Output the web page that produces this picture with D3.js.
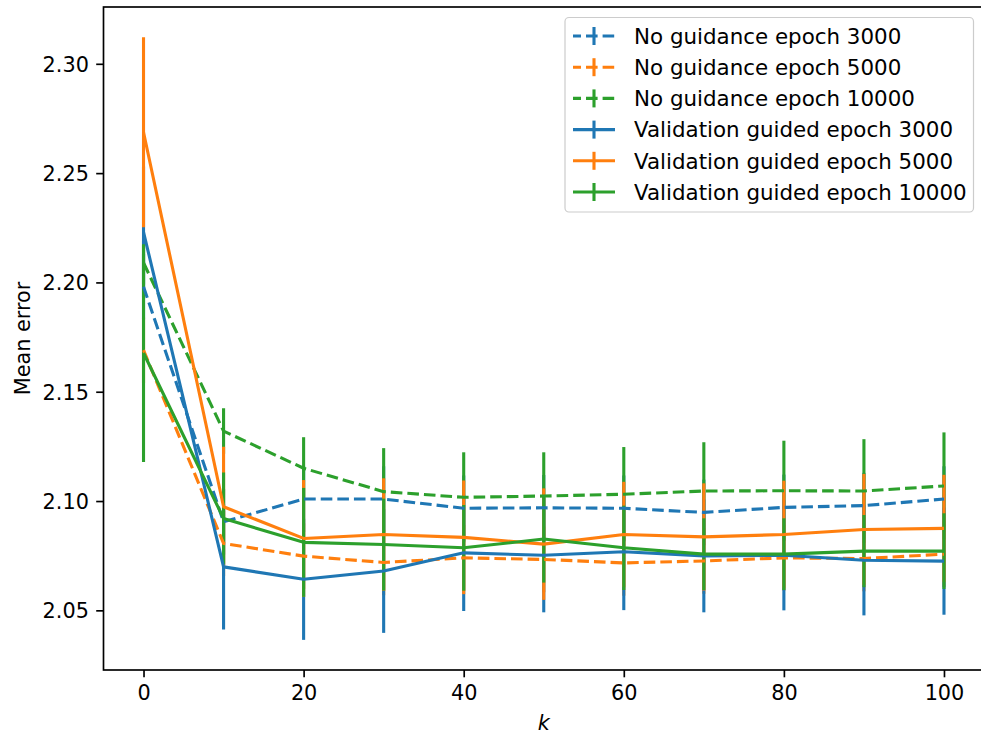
<!DOCTYPE html>
<html>
<head>
<meta charset="utf-8">
<script src="https://cdn.jsdelivr.net/npm/d3@7"></script>
<style>
  body { margin: 0; background: #fff; }
  text { font-family: "DejaVu Sans", sans-serif; }
</style>
</head>
<body>
<script>
// data
var kValues = [0, 10, 20, 30, 40, 50, 60, 70, 80, 90, 100];
var xTicks = [0, 20, 40, 60, 80, 100];
var yTicks = [2.05, 2.10, 2.15, 2.20, 2.25, 2.30];

var seriesNames = ["No guidance epoch 3000", "No guidance epoch 5000", "No guidance epoch 10000",
                   "Validation guided epoch 3000", "Validation guided epoch 5000", "Validation guided epoch 10000"];

var ng3000 = [2.198, 2.0905, 2.1009, 2.1009, 2.0967, 2.0969, 2.0967, 2.0948, 2.0971, 2.0979, 2.1009];
var ng5000 = [2.169, 2.0806, 2.0748, 2.0719, 2.0740, 2.0733, 2.0717, 2.0726, 2.0740, 2.0737, 2.0757];
var ng10000 = [2.209, 2.132, 2.115, 2.1043, 2.1017, 2.1023, 2.1031, 2.1046, 2.1047, 2.1046, 2.1069];
var vg3000 = [2.223, 2.0699, 2.0642, 2.0680, 2.0763, 2.0752, 2.0768, 2.0749, 2.0752, 2.0729, 2.0725];
var vg5000 = [2.2687, 2.0974, 2.0829, 2.0847, 2.0834, 2.0803, 2.0847, 2.0836, 2.0847, 2.0870, 2.0875];
var vg10000 = [2.1677, 2.0920, 2.0811, 2.0801, 2.0786, 2.0826, 2.0786, 2.0757, 2.0757, 2.0771, 2.0771];

var ng3000Err = [0.015, 0.015, 0.015, 0.015, 0.015, 0.015, 0.015, 0.015, 0.015, 0.015, 0.015];
var ng5000Err = [0.015, 0.015, 0.015, 0.015, 0.015, 0.015, 0.015, 0.015, 0.015, 0.015, 0.015];
var ng10000Err = [0.010, 0.0104, 0.0142, 0.0199, 0.0206, 0.0200, 0.0216, 0.0223, 0.0229, 0.0237, 0.0245];
var vg3000Err = [0.030, 0.0287, 0.0277, 0.0283, 0.0266, 0.0261, 0.0267, 0.0258, 0.0252, 0.0252, 0.0245];
var vg5000Err = [0.0435, 0.0274, 0.0267, 0.0257, 0.0260, 0.0255, 0.0241, 0.0245, 0.0246, 0.0254, 0.0245];
var vg10000Err = [0.0498, 0.0210, 0.0249, 0.0210, 0.0196, 0.0199, 0.0193, 0.0164, 0.0164, 0.0165, 0.0173];

var seriesMeans = [ng3000, ng5000, ng10000, vg3000, vg5000, vg10000];
var seriesErrs = [ng3000Err, ng5000Err, ng10000Err, vg3000Err, vg5000Err, vg10000Err];
var seriesColors = ["#1f77b4", "#ff7f0e", "#2ca02c", "#1f77b4", "#ff7f0e", "#2ca02c"];
var seriesDashed = [true, true, true, false, false, false];

//sizes
var cWidth = 981;
var cHeight = 734;
var plotLeft = 103.5, plotRight = 984, plotTop = 7, plotBottom = 670;
var fontSize = 20.8;
var legendFont = 21.4;
var lw = 3.1;
var dash = "11.6,5";

// y limits like matplotlib: data extent plus 5% margin
var lo = d3.min(seriesMeans, function(m, s) { return d3.min(m, function(v, i) { return v - seriesErrs[s][i]; }); });
var hi = d3.max(seriesMeans, function(m, s) { return d3.max(m, function(v, i) { return v + seriesErrs[s][i]; }); });
var pad = (hi - lo) * 0.05;

var xScale = d3.scaleLinear().domain([-5, 105]).range([plotLeft, plotRight]);
var yScale = d3.scaleLinear().domain([lo - pad, hi + pad]).range([plotBottom, plotTop]);

var svg = d3.select("body")
    .append("svg")
    .attr("width", cWidth)
    .attr("height", cHeight);

svg.append("defs").append("clipPath").attr("id", "plotClip")
    .append("rect")
    .attr("x", plotLeft).attr("y", plotTop)
    .attr("width", plotRight - plotLeft).attr("height", plotBottom - plotTop);

var plot = svg.append("g").attr("clip-path", "url(#plotClip)");

// error bars first (matplotlib puts the data lines above them)
seriesMeans.forEach(function(means, s) {
  plot.append("g")
      .selectAll("line")
      .data(kValues)
      .enter()
      .append("line")
      .attr("x1", function(k) { return xScale(k); })
      .attr("x2", function(k) { return xScale(k); })
      .attr("y1", function(k, i) { return yScale(means[i] - seriesErrs[s][i]); })
      .attr("y2", function(k, i) { return yScale(means[i] + seriesErrs[s][i]); })
      .attr("stroke", seriesColors[s])
      .attr("stroke-width", lw);
});

var line = d3.line()
    .x(function(d) { return xScale(d[0]); })
    .y(function(d) { return yScale(d[1]); });

seriesMeans.forEach(function(means, s) {
  plot.append("path")
      .datum(d3.zip(kValues, means))
      .attr("d", line)
      .attr("fill", "none")
      .attr("stroke", seriesColors[s])
      .attr("stroke-width", lw)
      .attr("stroke-linejoin", "round")
      .attr("stroke-dasharray", seriesDashed[s] ? dash : null);
});

// axes
var xAxis = svg.append("g")
    .attr("transform", "translate(0," + plotBottom + ")")
    .call(d3.axisBottom(xScale).tickValues(xTicks).tickSize(7.3).tickPadding(7.3).tickFormat(d3.format("d")));
var yAxis = svg.append("g")
    .attr("transform", "translate(" + plotLeft + ",0)")
    .call(d3.axisLeft(yScale).tickValues(yTicks).tickSize(7.3).tickPadding(7.3).tickFormat(d3.format(".2f")));

[xAxis, yAxis].forEach(function(ax) {
  ax.select(".domain").remove();
  ax.selectAll(".tick line").attr("stroke", "#000").attr("stroke-width", 1.67);
  ax.selectAll(".tick text")
    .attr("fill", "#000")
    .style("font-family", "'DejaVu Sans', sans-serif")
    .style("font-size", fontSize + "px");
});
xAxis.selectAll(".tick text").attr("dy", "0.76em");
yAxis.selectAll(".tick text").attr("dy", "0.36em");

// frame
svg.append("rect")
    .attr("x", plotLeft).attr("y", plotTop)
    .attr("width", plotRight - plotLeft).attr("height", plotBottom - plotTop)
    .attr("fill", "none")
    .attr("stroke", "#000")
    .attr("stroke-width", 1.67);

// labels
svg.append("text")
    .attr("x", (plotLeft + plotRight) / 2)
    .attr("y", 729.5)
    .attr("text-anchor", "middle")
    .style("font-size", fontSize + "px")
    .style("font-style", "italic")
    .text("k");

svg.append("text")
    .attr("transform", "translate(29.5," + (plotTop + plotBottom) / 2 + ") rotate(-90)")
    .attr("text-anchor", "middle")
    .style("font-size", fontSize + "px")
    .text("Mean error");

// legend
var legend = svg.append("g");
legend.append("rect")
    .attr("x", 565).attr("y", 17.5)
    .attr("width", 408.5).attr("height", 194.5)
    .attr("rx", 4)
    .attr("fill", "#fff").attr("fill-opacity", 0.8)
    .attr("stroke", "#cccccc").attr("stroke-width", 1.2);

var rows = legend.selectAll("g.row")
    .data(seriesNames)
    .enter()
    .append("g")
    .attr("transform", function(d, i) { return "translate(0," + (36 + i * 31.2) + ")"; });

rows.append("line")
    .attr("x1", 573).attr("x2", 615)
    .attr("y1", 0).attr("y2", 0)
    .attr("stroke", function(d, i) { return seriesColors[i]; })
    .attr("stroke-width", lw)
    .attr("stroke-dasharray", function(d, i) { return seriesDashed[i] ? dash : null; })
    .attr("stroke-dashoffset", 3.6);

rows.append("line")
    .attr("x1", 594).attr("x2", 594)
    .attr("y1", -9).attr("y2", 9)
    .attr("stroke", function(d, i) { return seriesColors[i]; })
    .attr("stroke-width", lw);

rows.append("text")
    .attr("x", 634)
    .attr("y", 0)
    .attr("dy", "0.36em")
    .style("font-size", legendFont + "px")
    .text(function(d) { return d; });
</script>
</body>
</html>
